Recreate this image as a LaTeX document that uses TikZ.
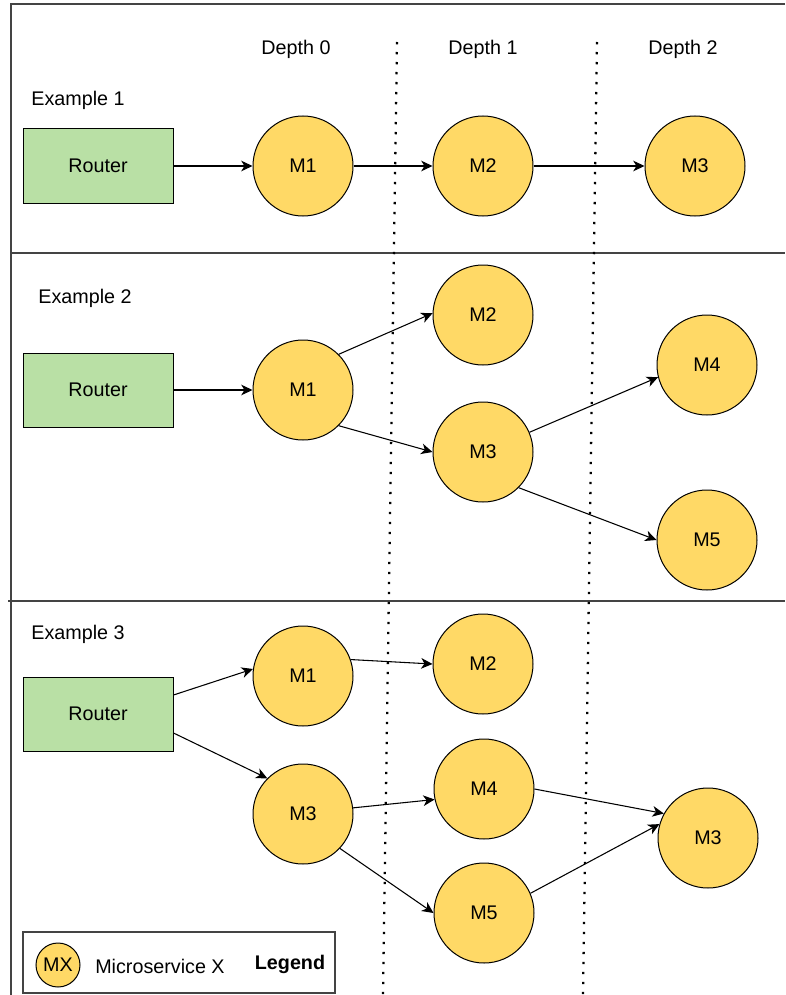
\documentclass[tikz,border=0pt]{standalone}
\usepackage{fontspec}
\setmainfont{Liberation Sans}
\usetikzlibrary{arrows.meta}
\definecolor{msyellow}{HTML}{FFD966}
\definecolor{routergreen}{HTML}{B9E0A5}
\definecolor{framegray}{HTML}{444444}
\begin{document}
\begin{tikzpicture}[x=0.75pt,y=-0.75pt,
  font=\fontsize{14.8}{17}\selectfont,
  ms/.style={circle,draw,line width=0.75pt,fill=msyellow,minimum size=75pt,inner sep=0pt},
  router/.style={draw,line width=0.75pt,fill=routergreen,minimum width=112.5pt,minimum height=55.5pt},
  link/.style={-{Stealth[length=8.5pt,width=8pt,inset=2.5pt]},line width=0.8pt},
  sep/.style={line width=1.7pt,dash pattern=on 1.7pt off 5.8pt}]
\useasboundingbox (0,0) rectangle (785,995);
% frame
\draw[framegray,line width=0.9pt] (785,4) -- (11,4) -- (11,995);
\draw[framegray,line width=0.9pt] (11,253) -- (785,253);
\draw[framegray,line width=0.9pt] (8,601) -- (785,601);
% depth separators
\draw[sep] (397,42) -- (383,995);
\draw[sep] (597,42) -- (583,995);
\foreach \x/\d in {296/0, 483/1, 683/2} {
    \node (depth\d) at (\x,49) {Depth \d};
}

% example 1
\node (ex1) at (78,100) {Example 1};
\node[router] (r1) at (98,166) {Router};
\node[ms] (a1) at (303,166) {M1};
\node[ms] (a2) at (483,166) {M2};
\node[ms] (a3) at (695,166) {M3};
\draw[link] (r1) -- (a1);
\draw[link] (a1) -- (a2);
\draw[link] (a2) -- (a3);

% example 2
\node (ex2) at (85,298) {Example 2};
\node[router] (r2) at (98,390) {Router};
\node[ms] (b1) at (303,390) {M1};
\node[ms] (b2) at (483,315) {M2};
\node[ms] (b3) at (483,452) {M3};
\node[ms] (b4) at (707,365) {M4};
\node[ms] (b5) at (707,540) {M5};
\draw[link] (r2) -- (b1);
\draw[link] (b1.45) -- (b2.178);
\draw[link] (b1.-45) -- (b3.west);
\draw[link] (b3.23) -- (b4.194);
\draw[link] (b3.-45) -- (b5.west);

% example 3
\node (ex3) at (78,634) {Example 3};
\node[router] (r3) at (98,714) {Router};
\node[ms] (c1) at (303,676) {M1};
\node[ms] (c2) at (483,664) {M2};
\node[ms] (c3) at (303,814) {M3};
\node[ms] (c4) at (484,789) {M4};
\node[ms] (c5) at (484,913) {M5};
\node[ms] (c6) at (708,838) {M3};
\draw[link] (r3.east |- 0,695) -- (c1.172);
\draw[link] (r3.east |- 0,733) -- (c3.135);
\draw[link] (c1.19) -- (c2.west);
\draw[link] (c3.7) -- (c4.192);
\draw[link] (c3.-43) -- (c5.west);
\draw[link] (c4.east) -- (c6.151);
\draw[link] (c5.23) -- (c6.164);

% legend
\node[draw,framegray,line width=0.9pt,minimum width=234pt,minimum height=45.75pt] (legend) at (179,962.5) {};
\node[ms,minimum size=33pt] (mx) at (58,965) {MX};
\node (mxtext) at (160,966) {Microservice X};
\node[font=\fontsize{14.8}{17}\selectfont\bfseries] (legendtitle) at (290,964) {Legend};
\end{tikzpicture}
\end{document}
